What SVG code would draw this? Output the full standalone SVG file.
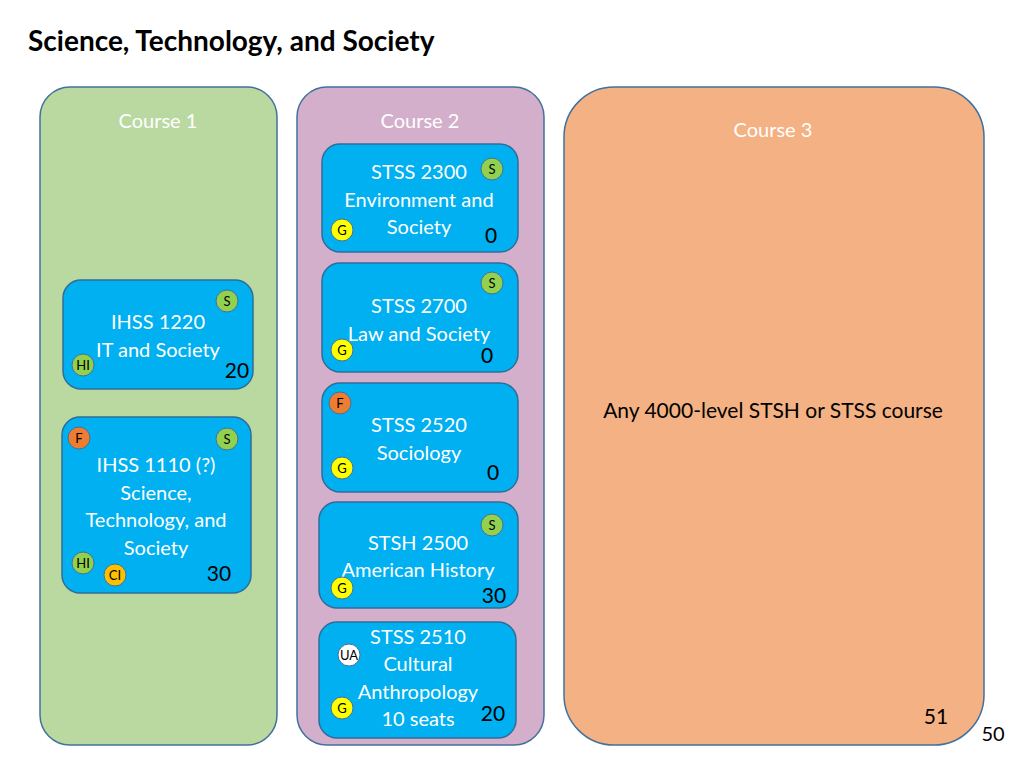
<svg xmlns="http://www.w3.org/2000/svg" width="1024" height="768" viewBox="0 0 1024 768">
<style>
text{font-family:Lato,"Open Sans",sans-serif}
.col{stroke:#41719c;stroke-width:1.5}
.box{fill:#00b0f0;stroke:#2f6d99;stroke-width:1.5}
.w{fill:#fff;font-size:20px;text-anchor:middle}
.k{fill:#000;font-size:21px;text-anchor:middle}
.b{stroke:#41719c;stroke-width:1}
.bt{font-size:13px;text-anchor:middle;fill:#000}
.s{fill:#92d050}.g{fill:#ffff00}.f{fill:#ed7d31}.c{fill:#ffc000}.u{fill:#fff}
</style>
<rect width="1024" height="768" fill="#fff"/>
<text x="28" y="51" font-size="28" font-weight="bold" style="font-family:Lato,sans-serif">Science, Technology, and Society</text>
<g id="course1">
<rect class="col" x="40" y="87" width="237" height="658" rx="30" fill="#b9d9a1"/>
<text class="w" x="158" y="128">Course 1</text>
</g>
<g id="course2">
<rect class="col" x="297" y="87" width="247" height="658" rx="30" fill="#d4afcc"/>
<text class="w" x="420" y="128">Course 2</text>
</g>
<g id="course3">
<rect class="col" x="564" y="87" width="420" height="658" rx="50" fill="#f4b183"/>
<text class="w" x="773" y="137">Course 3</text>
<text class="k" x="773" y="418">Any 4000-level STSH or STSS course</text>
<text class="k" x="936" y="724">51</text>
</g>
<g id="ihss1220">
<rect class="box" x="63" y="280" width="190" height="109" rx="18"/>
<text class="w" x="158" y="329">IHSS 1220</text>
<text class="w" x="158" y="357">IT and Society</text>
<circle class="b s" cx="227" cy="301" r="11"/><text class="bt" x="227" y="306">S</text>
<circle class="b s" cx="83" cy="365" r="11"/><text class="bt" x="83" y="370">HI</text>
<text class="k" x="237" y="378">20</text>
</g>
<g id="ihss1110">
<rect class="box" x="62" y="417" width="189" height="176" rx="18"/>
<text class="w" x="156" y="472">IHSS 1110 (?)</text>
<text class="w" x="156" y="500">Science,</text>
<text class="w" x="156" y="527">Technology, and</text>
<text class="w" x="156" y="555">Society</text>
<circle class="b f" cx="79" cy="438" r="11"/><text class="bt" x="79" y="443">F</text>
<circle class="b s" cx="227" cy="439" r="11"/><text class="bt" x="227" y="444">S</text>
<circle class="b s" cx="83" cy="563" r="11"/><text class="bt" x="83" y="568">HI</text>
<circle class="b c" cx="115" cy="575" r="11"/><text class="bt" x="115" y="580">CI</text>
<text class="k" x="219" y="581">30</text>
</g>
<g id="stss2300">
<rect class="box" x="322" y="144" width="196" height="108" rx="18"/>
<text class="w" x="419" y="179">STSS 2300</text>
<text class="w" x="419" y="207">Environment and</text>
<text class="w" x="419" y="234">Society</text>
<circle class="b s" cx="492" cy="169" r="11"/><text class="bt" x="492" y="174">S</text>
<circle class="b g" cx="342" cy="230" r="11"/><text class="bt" x="342" y="235">G</text>
<text class="k" x="491" y="243">0</text>
</g>
<g id="stss2700">
<rect class="box" x="322" y="263" width="196" height="109" rx="18"/>
<text class="w" x="419" y="313">STSS 2700</text>
<text class="w" x="419" y="341">Law and Society</text>
<circle class="b s" cx="492" cy="283" r="11"/><text class="bt" x="492" y="288">S</text>
<circle class="b g" cx="342" cy="350" r="11"/><text class="bt" x="342" y="355">G</text>
<text class="k" x="487" y="363">0</text>
</g>
<g id="stss2520">
<rect class="box" x="322" y="383" width="196" height="109" rx="18"/>
<text class="w" x="419" y="432">STSS 2520</text>
<text class="w" x="419" y="460">Sociology</text>
<circle class="b f" cx="340" cy="403" r="11"/><text class="bt" x="340" y="408">F</text>
<circle class="b g" cx="342" cy="468" r="11"/><text class="bt" x="342" y="473">G</text>
<text class="k" x="493" y="480">0</text>
</g>
<g id="stsh2500">
<rect class="box" x="319" y="502" width="199" height="106" rx="18"/>
<text class="w" x="418" y="550">STSH 2500</text>
<text class="w" x="418" y="577">American History</text>
<circle class="b s" cx="492" cy="525" r="11"/><text class="bt" x="492" y="530">S</text>
<circle class="b g" cx="342" cy="588" r="11"/><text class="bt" x="342" y="593">G</text>
<text class="k" x="494" y="603">30</text>
</g>
<g id="stss2510">
<rect class="box" x="319" y="622" width="197" height="116" rx="18"/>
<text class="w" x="418" y="644">STSS 2510</text>
<text class="w" x="418" y="671">Cultural</text>
<text class="w" x="418" y="699">Anthropology</text>
<text class="w" x="418" y="726">10 seats</text>
<circle class="b u" cx="349" cy="655" r="11"/><text class="bt" x="349" y="660">UA</text>
<circle class="b g" cx="342" cy="708" r="11"/><text class="bt" x="342" y="713">G</text>
<text class="k" x="493" y="721">20</text>
</g>
<g id="connectors"></g>
<text x="993" y="741" font-size="20" text-anchor="middle">50</text>
</svg>
